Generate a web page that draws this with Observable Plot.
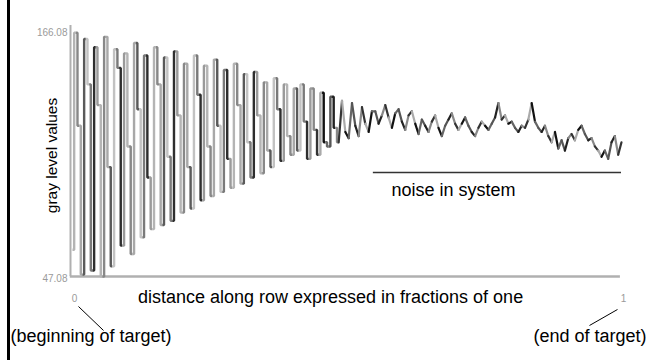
<!DOCTYPE html>
<html><head><meta charset="utf-8">
<script src="https://cdn.jsdelivr.net/npm/d3@7"></script>
<script src="https://cdn.jsdelivr.net/npm/@observablehq/plot@0.6"></script>
<style>
html,body{margin:0;padding:0;background:#fff;}
#wrap{position:relative;width:658px;height:360px;overflow:hidden;}
#border{position:absolute;left:7px;top:0;width:2.5px;height:360px;background:#000;}
#wrap svg{position:absolute;left:0;top:0;}
</style></head><body>
<div id="wrap"><div id="border"></div></div>
<script>
// gray level samples along the row
const grayLevels = [
  60,165,120,48,162,140,50,158,130,47,
  163,100,52,157,148,62,155,110,58,160,
  128,66,154,95,70,158,140,72,153,105,
  74,156,125,78,150,100,80,154,135,84,
  149,110,86,152,120,88,147,104,90,150,
  130,92,145,112,95,146,125,97,141,108,
  100,143,128,103,140,115,106,138,108,140,
  122,104,138,118,106,136,112,110,134,119,
  112,132,117,114,131,120,115,129,121,117,
  127,127,121,125,130,124,119,126,128,122,
  118,125,127,121,116,123,120,117,122,125,
  119,115,120,123,126,121,118,121,124,120,
  117,115,119,122,120,118,121,124,131,123,
  125,121,122,119,117,120,119,123,131,122,
  119,117,120,115,112,117,109,113,108,114,
  116,113,118,120,116,113,114,110,108,105,
  108,104,112,115,106,112
];
const yTicks = [47.08, 166.08];
const xTicks = [0, 1];
const xLabel = "distance along row expressed in fractions of one";
const yLabel = "gray level values";
const startNote = "(beginning of target)";
const endNote = "(end of target)";
const noiseNote = "noise in system";

const n = grayLevels.length;
const samples = grayLevels.map((v, i) => ({i, x: i / (n - 1), y: v}));
const segments = samples.slice(1).map((d, k) => ({i: k, x1: samples[k].x, y1: samples[k].y, x2: d.x, y2: d.y}));
const ringing = segments.filter(d => d.i < 80);
const noise = segments.filter(d => d.i >= 80);
const shadesA = ["#b4b4b4", "#888888", "#a8a8a8", "#5a5a5a", "#c2c2c2", "#7a7a7a", "#2e2e2e", "#9a9a9a"];
const shadesB = ["#555555", "#222222", "#888888", "#333333", "#aaaaaa", "#111111", "#666666"];
const shade = d => d.i < 72 ? shadesA[d.i % shadesA.length] : shadesB[d.i % shadesB.length];

const font = "'Liberation Sans', Arial, Helvetica, sans-serif";

const chart = Plot.plot({
  width: 658, height: 360,
  marginLeft: 72, marginRight: 37, marginTop: 30, marginBottom: 84,
  x: {domain: [0, 1], axis: null},
  y: {domain: [47.08, 166.08], axis: null},
  style: {fontFamily: font, background: "transparent", overflow: "visible"},
  marks: [
    Plot.ruleX([0], {y1: 47.08, y2: 168.5, dx: -2, stroke: "#b0b0b0", strokeWidth: 2}),
    Plot.ruleY([47.08], {x1: -0.004, x2: 0.998, stroke: "#b0b0b0", strokeWidth: 2.5}),
    Plot.link(ringing, {x1: "x1", y1: "y1", x2: "x2", y2: "y2", curve: "step", stroke: shade, strokeWidth: 2.4}),
    Plot.link(noise, {x1: "x1", y1: "y1", x2: "x2", y2: "y2", stroke: shade, strokeWidth: 2.2, strokeLinecap: "round"}),
    Plot.text(yTicks, {x: 0, y: d => d, text: d => d.toFixed(2), textAnchor: "end", dx: -5, dy: 2, fontSize: 10, fill: "#9a9a9a"}),
    Plot.text(xTicks, {x: d => d, y: 47.08, text: d => String(d), dx: 2, dy: 22, fontSize: 10, fill: "#9a9a9a"}),
    Plot.text([xLabel], {x: 0.47, y: 36.9, text: d => d, fontSize: 18, fill: "#000"}),
    Plot.text([yLabel], {x: -0.0364, y: 105.6, text: d => d, rotate: -90, fontSize: 15.5, fill: "#000"}),
    Plot.text([startNote], {x: -0.113, y: 18.06, text: d => d, textAnchor: "start", fontSize: 18, fill: "#000"}),
    Plot.text([endNote], {x: 1.0455, y: 18.06, text: d => d, textAnchor: "end", fontSize: 18, fill: "#000"}),
    Plot.text([noiseNote], {x: 0.581, y: 88.7, text: d => d, textAnchor: "start", fontSize: 18, fill: "#000"}),
    Plot.link([{a: 0.0109, b: 32.57, c: 0.0565, d: 20.96}, {a: 0.9927, b: 31.12, c: 0.9417, d: 23.38}],
      {x1: "a", y1: "b", x2: "c", y2: "d", stroke: "#000", strokeWidth: 1}),
    Plot.ruleY([97.4], {x1: 0.548, x2: 1.0, stroke: "#333", strokeWidth: 1.3})
  ]
});
document.getElementById("wrap").appendChild(chart);
</script>
</body></html>
